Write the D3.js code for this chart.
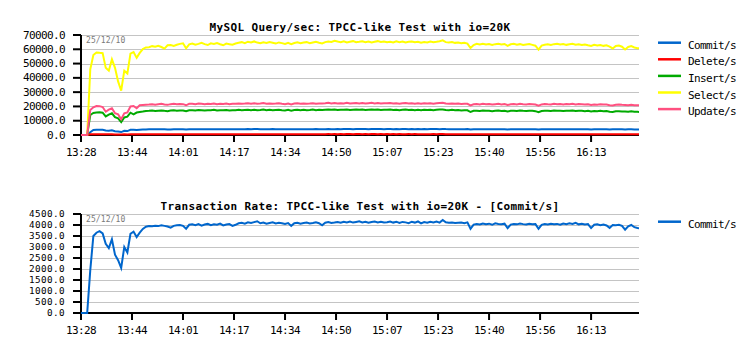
<!DOCTYPE html>
<html><head><meta charset="utf-8">
<script src="https://cdn.jsdelivr.net/npm/d3@7"></script>
<style>body{margin:0;background:#fff;} svg{display:block;background:#fff}</style>
</head><body><svg id="c" width="755" height="356"></svg>
<script>
// ---- data: one sample per minute from 13:28 ----
const commitPerSec=[0,0,0,1950,3500,3650,3720,3620,3150,2950,3350,2650,2400,2050,3000,2750,3600,3700,3450,3650,3820,3920,
3950,3940,3960,3950,3990,3960,3930,3880,3960,3990,4000,3960,3830,4010,
4030,3990,4040,3970,4020,4050,3990,4030,4010,4060,3980,4020,4040,3960,
4010,4080,4100,4060,4120,4090,4130,4170,4080,4110,4060,4090,4120,4070,4100,4080,4050,
4090,3960,4080,4100,4060,4090,4110,4070,4090,4120,4080,3990,4100,4130,4090,4110,
4140,4100,4150,4120,4160,4110,4140,4170,4120,4150,4100,4140,4160,4120,4150,4110,4130,
4160,4110,4150,4090,4140,4120,4080,4150,4110,4160,4070,4130,4100,4150,4120,4160,4110,4230,4120,4100,4110,4090,4100,4110,4080,4120,
3830,4020,4050,4020,4070,4040,4060,4010,4080,4050,4030,4060,3860,4020,4050,4030,4070,4040,4020,4060,
4030,4040,3830,4010,4040,4020,4060,4030,4050,4010,4070,4040,4080,4050,4100,4030,4060,4020,4040,3860,
4010,4030,3990,4020,3980,3870,4000,3990,4010,3960,3790,3940,4000,3900,3860,3850];

const deletePerSec=[0,0,0,450,520,540,530,520,460,440,500,420,400,330,440,430,510,530,500,520,540,550,
550,560,550,560,570,550,540,560,570,560,
560,570,530,570,580,570,580,570,560,580,
570,590,570,580,570,590,570,580,580,590,
590,580,600,590,600,610,590,600,590,600,
600,590,600,590,580,600,560,600,610,590,
600,610,590,600,610,600,580,610,620,610,
620,610,620,610,620,630,610,620,630,610,
620,610,620,630,610,620,610,620,610,620,
610,620,610,600,620,610,620,600,610,600,
610,600,620,610,620,630,610,600,610,600,
610,600,600,610,540,590,600,590,600,590,
600,590,600,600,590,600,560,590,600,590,
600,590,590,600,590,590,540,590,600,590,
590,600,590,600,590,600,590,600,610,590,
600,590,600,560,590,600,590,590,580,560,
590,590,590,580,540,580,590,570,560,560];

const insertPerSec=[0,0,0,14000,15400,15700,15900,15600,13000,14300,15200,12500,11600,9000,12300,12800,15600,14500,15700,16100,16400,16800,
16900,17100,16800,17000,17200,16900,16700,17100,17300,17000,17200,17100,16600,17300,17400,17200,17500,17300,17100,17400,17300,17600,17200,17400,17300,17500,17200,17400,
17400,17600,17300,17500,17700,17400,17600,17300,17500,17800,17400,17600,17300,17500,17700,17400,17200,17600,17000,17500,
17700,17400,17600,17300,17500,17800,17400,17600,17500,17700,17900,17600,17800,17500,17700,17600,17900,17500,17700,17800,
17600,17800,17500,17700,17900,17600,17800,17500,17700,17600,
17800,17500,17700,17400,17600,17800,17500,17700,17400,17600,17300,17600,17500,17700,17400,17600,17800,17900,17500,17400,17600,17300,17500,17200,17400,17300,
16100,16900,17000,16800,17100,16900,17000,16700,17000,17100,16800,17000,16400,16900,17000,16800,17100,16900,16800,17000,
16900,16700,16000,16800,17000,16900,16800,17100,16900,17000,16800,17000,16900,17100,16800,17000,16900,16700,16900,16500,
16800,16600,16900,16700,16800,16300,16100,16600,16700,16500,16400,16200,16600,16300,16200,16100];

const selectPerSec=[0,0,0,46000,56000,57800,57500,57300,47000,45000,53000,47000,37500,31000,45000,43000,57000,58000,54000,57500,60200,61300,
61500,62200,61800,62500,61600,60500,62800,63000,62400,63200,63800,64200,60700,63500,
64000,63200,63800,64500,63600,63000,64200,63700,64400,63500,62800,64000,63600,63200,
64000,64600,65000,64300,65300,64800,65500,64700,64200,64900,64400,65100,64600,64000,64800,64300,63800,
64500,63600,64400,64900,64200,64700,65000,64300,64800,65200,64600,64100,65000,65500,65100,66000,
65400,65000,65600,64800,65300,65700,64900,65200,65600,65000,65400,64800,65300,65700,65100,65500,64900,
65300,64800,65600,65000,65400,64700,65200,65500,64900,65300,64600,65100,64800,65400,64900,65200,65600,66300,65000,64700,65100,64500,64800,64200,64600,64000,
60900,63000,63800,63300,63900,63400,63700,63100,63600,63900,63300,63700,62400,63500,63800,63200,63600,63000,63400,63700,
63100,62500,59800,62600,63200,63500,63000,63600,63900,63300,63700,63100,63500,63800,63200,63500,63000,63400,62800,62300,
63100,62700,63000,62400,62800,61900,60600,62300,62600,61800,59900,61600,62200,61300,60800,60700];

const updatePerSec=[0,0,0,17500,19400,20300,20200,19600,16300,17800,18700,15200,14400,11000,15200,15800,20000,20300,18700,20800,21000,21200,
21300,21600,21200,21500,21800,21400,21100,21600,21800,21500,21700,21600,20800,21800,21900,21600,22000,21800,21500,21900,21700,22100,21600,21900,21700,22000,21600,21800,
21900,22100,21800,22000,22300,21900,22200,21800,22000,22400,21900,22100,21800,22000,22300,21900,21600,22100,21400,22000,
22200,21900,22100,21800,22000,22300,21900,22100,22000,22200,22500,22100,22400,22000,22300,22100,22500,22000,22300,22400,
22100,22400,22000,22300,22500,22100,22400,22000,22300,22200,
22400,22000,22300,21900,22200,22400,22000,22300,21900,22200,21800,22200,22000,22300,21900,22200,22400,22600,22000,21900,22100,21800,22000,21700,21900,21800,
20700,21500,21700,21400,21800,21500,21700,21300,21600,21800,21400,21700,21000,21500,21700,21400,21800,21500,21400,21700,
21500,21300,20500,21400,21700,21500,21400,21800,21500,21700,21400,21700,21500,21800,21400,21700,21500,21300,21500,21000,
21400,21200,21500,21300,21400,20900,20700,21200,21300,21100,21000,20800,21200,20900,20800,20700];

const seriesNames=["Commit/s","Delete/s","Insert/s","Select/s","Update/s"];
const seriesColors=["#0066cc","#ff0000","#00aa00","#ffff00","#ff5080"];
const topYTicks=[0,10000,20000,30000,40000,50000,60000,70000];
const bottomYTicks=[0,500,1000,1500,2000,2500,3000,3500,4000,4500];
const timeTickMinutes=[0,16.5,33,49.5,66,82.5,99,115.5,132,148.5,165];
const timeTickLabels=["13:28","13:44","14:01","14:17","14:34","14:50","15:07","15:23","15:40","15:56","16:13"];
const timeSpanMinutes=180.5;
const dateLabel="25/12/10";
const topTitle="MySQL Query/sec: TPCC-like Test with io=20K";
const bottomTitle="Transaction Rate: TPCC-like Test with io=20K - [Commit/s]";

// ---- drawing ----
const MONO="'DejaVu Sans Mono', 'Liberation Mono', monospace";
const svg=d3.select("#c");
const X0=81, X1=639;
const x=d3.scaleLinear().domain([0,timeSpanMinutes]).range([X0,X1]);

svg.append("defs").append("clipPath").attr("id","plotclip")
  .append("rect").attr("x",X0).attr("y",0).attr("width",X1-X0).attr("height",356);

function panel(cfg){
  const y=d3.scaleLinear().domain([0,cfg.yMax]).range([cfg.bottom,cfg.top]);
  const g=svg.append("g");

  g.append("text").attr("x",(X0+X1)/2).attr("y",cfg.titleY)
    .attr("text-anchor","middle").attr("font-family",MONO).attr("font-weight","bold")
    .attr("font-size",11).attr("letter-spacing","0.38px").attr("fill","#000").text(cfg.title);

  g.selectAll("line.grid").data(cfg.ticks.filter(t=>t>0)).join("line").attr("class","grid")
    .attr("x1",X0).attr("x2",X1)
    .attr("y1",d=>Math.round(y(d))+0.5).attr("y2",d=>Math.round(y(d))+0.5)
    .attr("stroke","#c4c4c4").attr("stroke-width",1);

  g.append("text").attr("x",86).attr("y",cfg.dateY).attr("font-family",MONO)
    .attr("font-size",8).attr("letter-spacing","0.1px").attr("fill","#7a7a7a").text(dateLabel);

  const yAxis=d3.axisLeft(y).tickValues(cfg.ticks).tickFormat(d3.format(".1f"))
    .tickSize(8).tickSizeOuter(0).tickPadding(8).offset(0);
  const ya=g.append("g").attr("transform",`translate(${X0},0)`).call(yAxis);
  const xAxis=d3.axisBottom(x).tickValues(timeTickMinutes).tickFormat((d,i)=>timeTickLabels[i])
    .tickSize(7).tickSizeOuter(0).tickPadding(6.2).offset(0);
  const xa=g.append("g").attr("transform",`translate(0,${cfg.bottom})`).call(xAxis);
  [ya,xa].forEach(a=>{
    a.attr("font-family",MONO).attr("font-size",11);
    a.selectAll("path.domain").attr("stroke","#000").attr("stroke-width",2);
    a.selectAll(".tick line").attr("stroke","#000").attr("stroke-width",2);
    a.selectAll(".tick text").attr("fill","#000").attr("letter-spacing","-0.62px");
  });
  // y labels sized so they fit between gridlines
  ya.selectAll(".tick text").attr("font-size",cfg.yFont).attr("letter-spacing",cfg.yLs);

  const line=d3.line().x((d,i)=>x(i)).y(d=>y(d));
  const lg=g.append("g").attr("clip-path","url(#plotclip)");
  cfg.series.forEach(s=>{
    lg.append("path").datum(s.values).attr("d",line).attr("fill","none")
      .attr("stroke",s.color).attr("stroke-width",2).attr("stroke-linejoin","miter");
  });

  const leg=g.append("g");
  cfg.series.forEach((s,i)=>{
    const ly=cfg.legendY+i*16.6;
    leg.append("line").attr("x1",658).attr("x2",681).attr("y1",ly).attr("y2",ly)
      .attr("stroke",s.color).attr("stroke-width",2.5);
    leg.append("text").attr("x",688).attr("y",ly+6).attr("font-family",MONO).attr("font-size",11)
      .attr("letter-spacing","-0.62px").attr("fill","#000").text(s.name);
  });
}

const allSeries=[commitPerSec,deletePerSec,insertPerSec,selectPerSec,updatePerSec];
panel({top:35,bottom:135,yMax:70000,ticks:topYTicks,title:topTitle,titleY:31,dateY:42.5,legendY:42.7,
  yFont:11,yLs:"-0.62px",
  series:allSeries.map((v,i)=>({name:seriesNames[i],color:seriesColors[i],values:v}))});
panel({top:214,bottom:313,yMax:4500,ticks:bottomYTicks,title:bottomTitle,titleY:210,dateY:222,legendY:221.7,
  yFont:9.3,yLs:"0.4px",
  series:[{name:seriesNames[0],color:seriesColors[0],values:commitPerSec}]});
</script></body></html>
